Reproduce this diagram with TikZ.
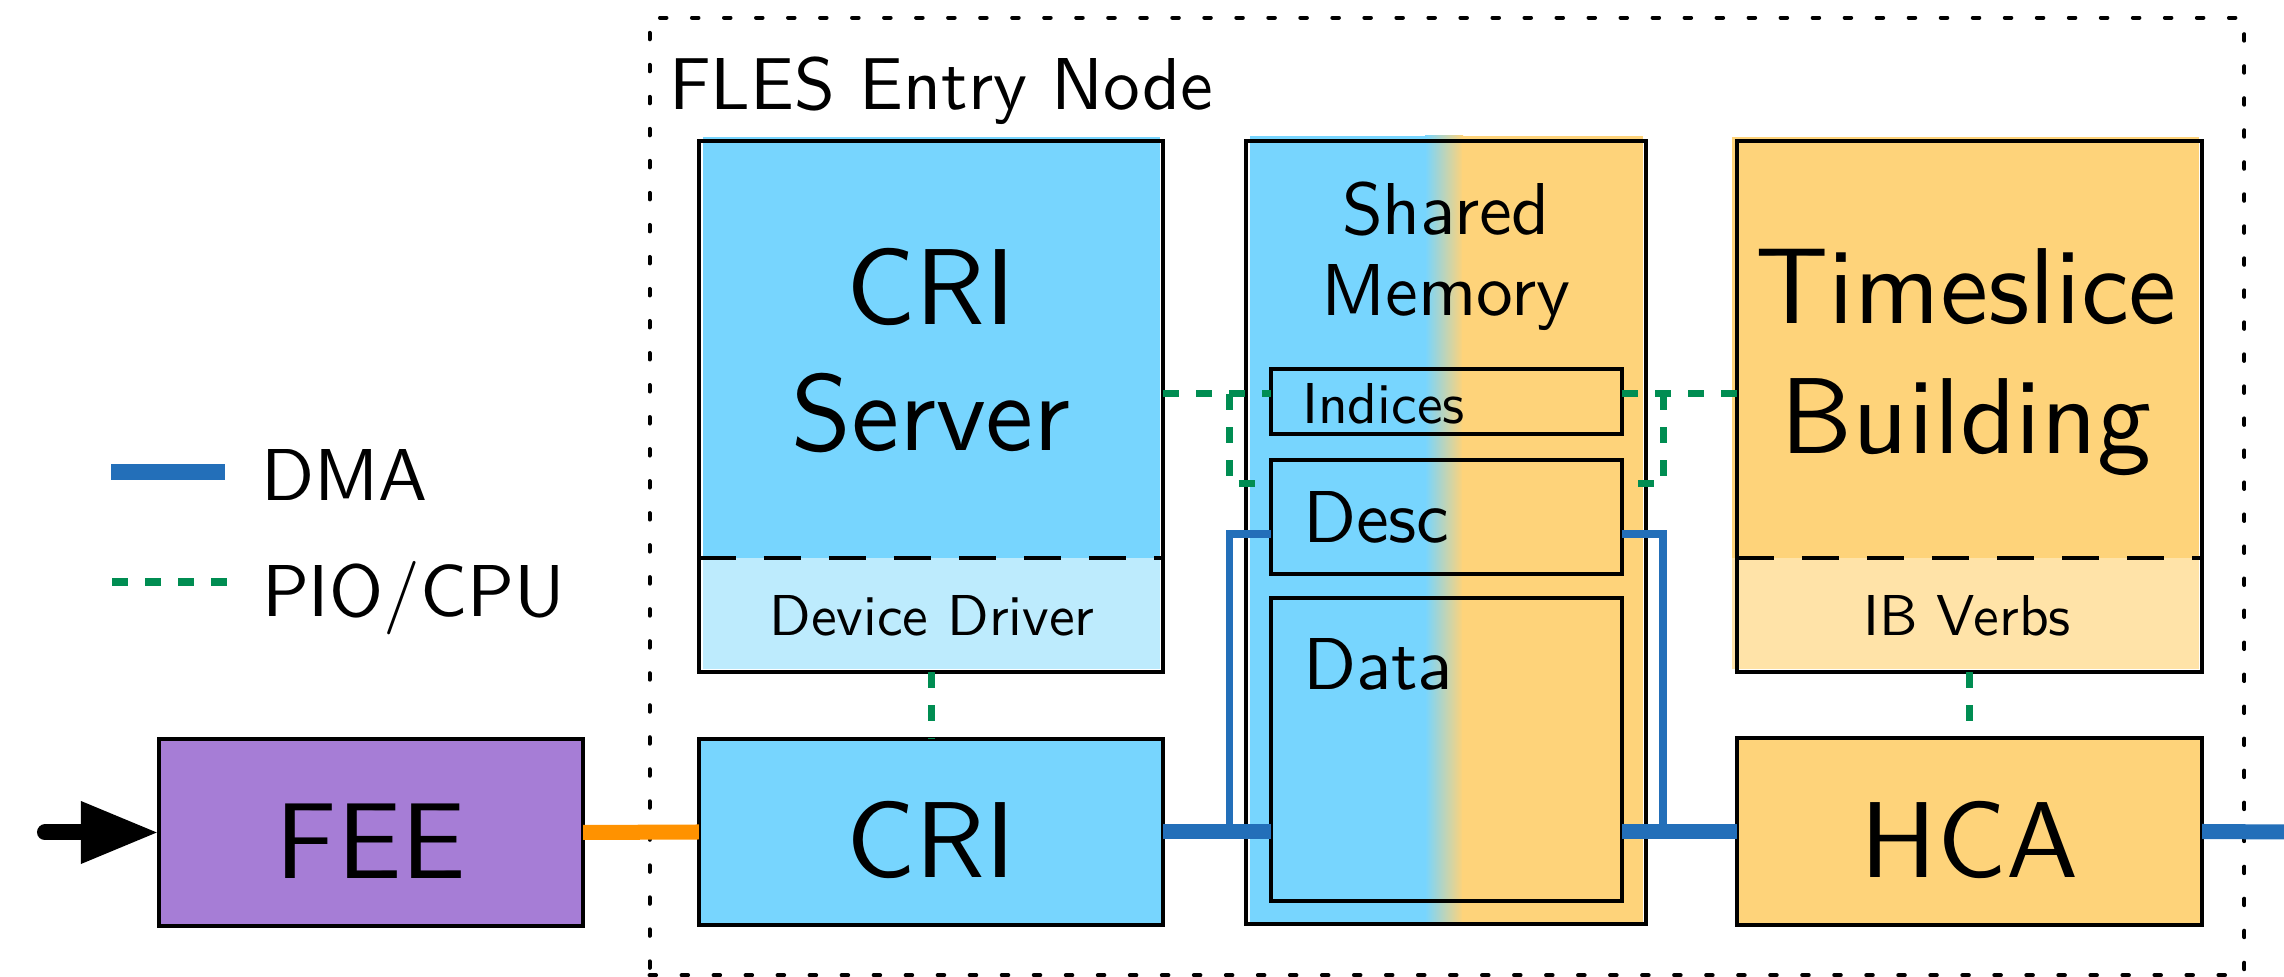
\documentclass[tikz,border=0pt]{standalone}
\usepackage{fontspec}
\setsansfont{lmsans10-regular.otf}
\usetikzlibrary{arrows.meta,calc}
\definecolor{dmablue}{RGB}{35,111,185}
\definecolor{piogreen}{RGB}{0,141,82}
\definecolor{linkorange}{RGB}{255,146,0}
\definecolor{feepurple}{RGB}{166,125,214}
\definecolor{crib}{RGB}{119,213,254}
\definecolor{drvb}{RGB}{189,235,253}
\definecolor{tso}{RGB}{254,211,122}
\definecolor{ibo}{RGB}{255,227,168}
\newcommand\txtbig{\fontsize{30.7pt}{36pt}\selectfont}
\newcommand\txtmid{\fontsize{20.9pt}{23.3pt}\selectfont}
\newcommand\txtsmall{\fontsize{16.4pt}{19pt}\selectfont}
\begin{document}
\begin{tikzpicture}[x=0.01cm,y=-0.01cm,font=\sffamily,
  frame/.style={draw,line width=0.04cm,inner sep=0pt,outer sep=0pt},
  bigbox/.style={frame,font=\sffamily\txtbig,text height=0.91cm,text depth=0pt},
  txt/.style={inner sep=0pt,outer sep=0pt},
  dma/.style={draw=dmablue,line width=0.15cm},
  dmathin/.style={draw=dmablue,line width=0.075cm},
  pio/.style={draw=piogreen,line width=0.07cm,dash pattern=on 0.16cm off 0.17cm},
  layersep/.style={draw,line width=0.04cm,dash pattern=on 0.37cm off 0.28cm}]

\useasboundingbox (0,0) rectangle (2284,977);

% background fills of the software blocks
\fill[crib] (703,137) rectangle (1160,558);
\fill[drvb] (703,558) rectangle (1160,669);
\fill[tso] (1732,137) rectangle (2199,558);
\fill[ibo] (1732,558) rectangle (2199,669);
\fill[crib] (1250,136) rectangle (1426,922);
\shade[left color=crib,right color=tso] (1425,136) rectangle (1463,922);
\fill[tso] (1462,136) rectangle (1643,922);

% entry node frame
\node[draw,line width=0.04cm,dash pattern=on 0.065cm off 0.255cm,line cap=round,
      minimum width=15.94cm,minimum height=9.57cm,inner sep=0pt,outer sep=0pt]
      (entry) at (1447,496.5) {};
\node[txt,anchor=base west,font=\sffamily\txtmid] (entrylabel) at (669,110) {FLES Entry Node};

% helper levels
\coordinate (split) at (0,558);
\coordinate (pioA) at (0,394);
\coordinate (pioB) at (0,484);
\coordinate (dmaB) at (0,534);
\coordinate (lbend) at (1229.5,0);
\coordinate (rbend) at (1663,0);

% CRI server (base anchor sits on the last line)
\node[frame,minimum width=4.64cm,minimum height=5.31cm] (cris) at (931,406.5) {};
\draw[layersep] (cris.west |- split) -- (cris.east |- split);
\node[txt,anchor=base,align=center,font=\sffamily\fontsize{30.7pt}{35.85pt}\selectfont]
      (crislabel) at (931,451) {CRI\\Server};
\node[txt,anchor=base,font=\sffamily\txtsmall] (ddlabel) at (932,636) {Device Driver};

% shared memory
\node[frame,minimum width=4.00cm,minimum height=7.83cm] (shm) at (1446,532.5) {};
\node[txt,anchor=base,align=center,font=\sffamily\fontsize{20.9pt}{23.3pt}\selectfont]
      (shmlabel) at (1446,316) {Shared\\Memory};
\node[frame,minimum width=3.51cm,minimum height=0.65cm] (idx) at (1446.5,401.5) {};
\node[frame,minimum width=3.51cm,minimum height=1.14cm] (desc) at (1446.5,517) {};
\node[frame,minimum width=3.51cm,minimum height=3.03cm] (data) at (1446.5,749.5) {};
\node[txt,anchor=base west,font=\sffamily\txtsmall] (idxlabel) at (1302,424) {Indices};
\node[txt,anchor=base west,font=\sffamily\txtmid] (desclabel) at (1303,543) {Desc};
\node[txt,anchor=base west,font=\sffamily\txtmid] (datalabel) at (1303,690) {Data};

% timeslice building
\node[frame,minimum width=4.65cm,minimum height=5.31cm] (tsb) at (1969.5,406.5) {};
\draw[layersep] (tsb.west |- split) -- (tsb.east |- split);
\node[txt,anchor=base,align=center,font=\sffamily\fontsize{30.7pt}{37pt}\selectfont]
      (tsblabel) at (1966,454) {Timeslice\\Building};
\node[txt,anchor=base,font=\sffamily\txtsmall] (iblabel) at (1967,636) {IB Verbs};

% hardware
\node[bigbox,fill=feepurple,minimum width=4.24cm,minimum height=1.87cm] (fee) at (371,832.5) {FEE};
\node[bigbox,fill=crib,minimum width=4.64cm,minimum height=1.86cm] (cri) at (931,832) {CRI};
\node[bigbox,fill=tso,minimum width=4.65cm,minimum height=1.87cm] (hca) at (1969.5,831.5) {HCA};

% input and links
\coordinate (inlink) at (45,832.5);
\coordinate (outlink) at (2284,832);
\draw[line width=0.16cm,line cap=round,-{Triangle[length=0.78cm,width=0.58cm]}] (inlink) -- (fee.west);
\draw[draw=linkorange,line width=0.15cm] (fee.east) -- (cri.west);

% DMA paths
\draw[dma] (cri.east) -- (cri.east -| data.west);
\draw[dmathin] (lbend |- cri.east) |- (desc.west |- dmaB);
\draw[dma] (data.east |- hca.west) -- (hca.west);
\draw[dmathin] (rbend |- hca.west) |- (desc.east |- dmaB);
\draw[dma] (hca.east) -- (outlink);

% PIO / CPU paths
\draw[pio] (cris.east |- pioA) -- (idx.west |- pioA);
\draw[pio] (lbend |- pioA) |- (desc.west |- pioB);
\draw[pio] (idx.east |- pioA) -- (tsb.west |- pioA);
\draw[pio] (rbend |- pioA) |- (desc.east |- pioB);
\draw[pio] (cris.south) -- (cri.north);
\draw[pio] (tsb.south) -- (hca.north);

% legend
\coordinate (ldmaA) at (111,472);
\coordinate (ldmaB) at (225,472);
\coordinate (lpioA) at (112,582);
\coordinate (lpioB) at (228,582);
\draw[draw=dmablue,line width=0.16cm] (ldmaA) -- (ldmaB);
\draw[pio,line width=0.08cm] (lpioA) -- (lpioB);
\node[txt,anchor=base west,font=\sffamily\txtmid] (ldmatext) at (261,501) {DMA};
\node[txt,anchor=base west,font=\sffamily\txtmid] (lpiotext) at (262,617) {PIO/CPU};
\end{tikzpicture}
\end{document}
